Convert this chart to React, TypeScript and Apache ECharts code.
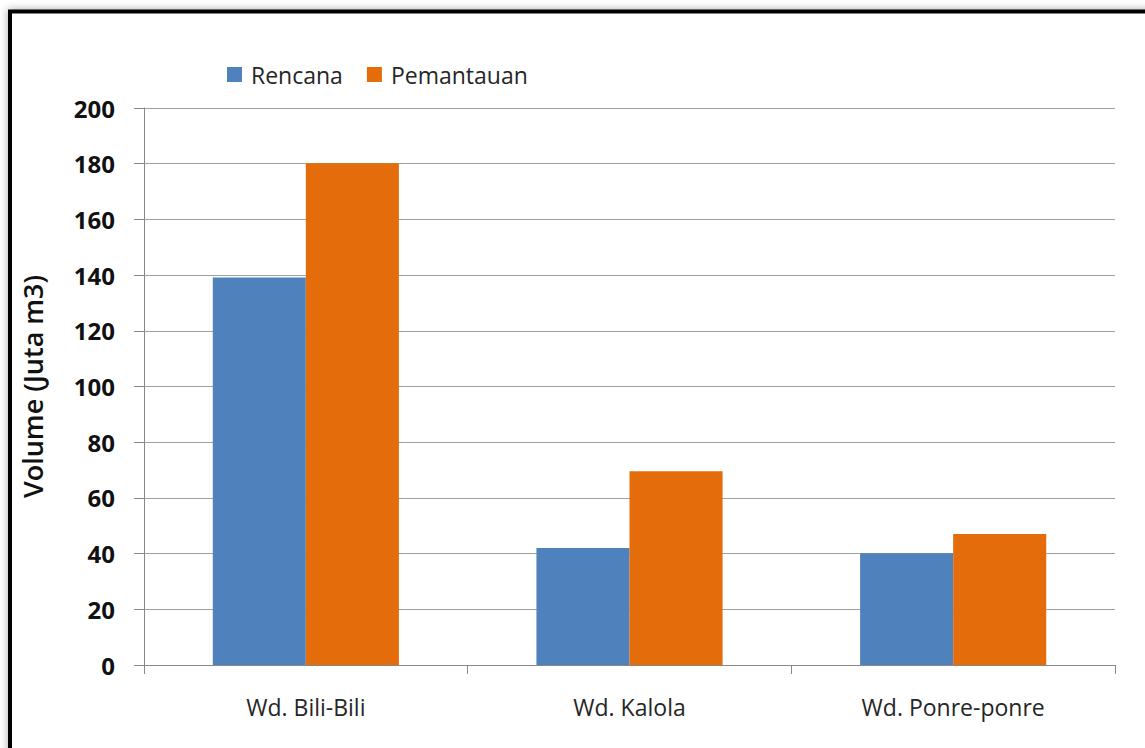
import React, { useEffect, useRef } from "react";
import * as echarts from "echarts";

const categories = ["Wd. Bili-Bili", "Wd. Kalola", "Wd. Ponre-ponre"];
const rencana = [139.1, 42, 40.1];
const pemantauan = [180.2, 69.6, 47];
const seriesNames = ["Rencana", "Pemantauan"];

export default function App() {
  const ref = useRef<HTMLDivElement>(null);
  useEffect(() => {
    const chart = echarts.init(ref.current!, null, { renderer: "svg" });
    chart.setOption({
      animation: false,
      backgroundColor: "#ffffff",
      textStyle: { fontFamily: "Open Sans" },
      graphic: [
        {
          type: "rect",
          z: -1,
          shape: { x: 10, y: 11.5, width: 1160, height: 760 },
          style: {
            fill: "#ffffff",
            stroke: "#000000",
            lineWidth: 4,
            shadowBlur: 8,
            shadowColor: "rgba(0,0,0,0.35)",
          },
        },
      ],
      legend: {
        left: 222,
        top: 58,
        itemWidth: 15,
        itemHeight: 15,
        itemGap: 24,
        icon: "rect",
        textStyle: { fontSize: 23, color: "#262626", fontFamily: "Open Sans", padding: [0, 0, 0, 4] },
        data: seriesNames,
      },
      grid: { left: 144, right: 30, top: 108, bottom: 83 },
      xAxis: {
        type: "category",
        data: categories,
        axisLine: { lineStyle: { color: "#888", width: 1 } },
        axisTick: { show: true, length: 9, lineStyle: { color: "#888" } },
        axisLabel: { fontSize: 23, color: "#262626", margin: 30, fontFamily: "Open Sans" },
      },
      yAxis: {
        type: "value",
        min: 0,
        max: 200,
        interval: 20,
        name: "Volume (Juta m3)",
        nameLocation: "middle",
        nameGap: 98,
        nameTextStyle: { fontSize: 27, fontWeight: 600, color: "#111", fontFamily: "Open Sans" },
        axisLine: { show: true, lineStyle: { color: "#888", width: 1 } },
        axisTick: { show: true, length: 10, lineStyle: { color: "#888" } },
        axisLabel: { fontSize: 24, fontWeight: "bold", color: "#111", margin: 29, fontFamily: "Open Sans" },
        splitLine: { lineStyle: { color: "#a0a0a0", width: 1 } },
      },
      series: [
        {
          name: seriesNames[0],
          type: "bar",
          data: rencana,
          barGap: "0%",
          barCategoryGap: "42.5%",
          itemStyle: { color: "#4F81BD" },
        },
        {
          name: seriesNames[1],
          type: "bar",
          data: pemantauan,
          barGap: "0%",
          barCategoryGap: "42.5%",
          itemStyle: { color: "#E46C0A" },
        },
      ],
    });
    return () => chart.dispose();
  }, []);
  return (
    <div
      ref={ref}
      style={{ position: "fixed", left: 0, top: 0, width: 1145, height: 748 }}
    />
  );
}
